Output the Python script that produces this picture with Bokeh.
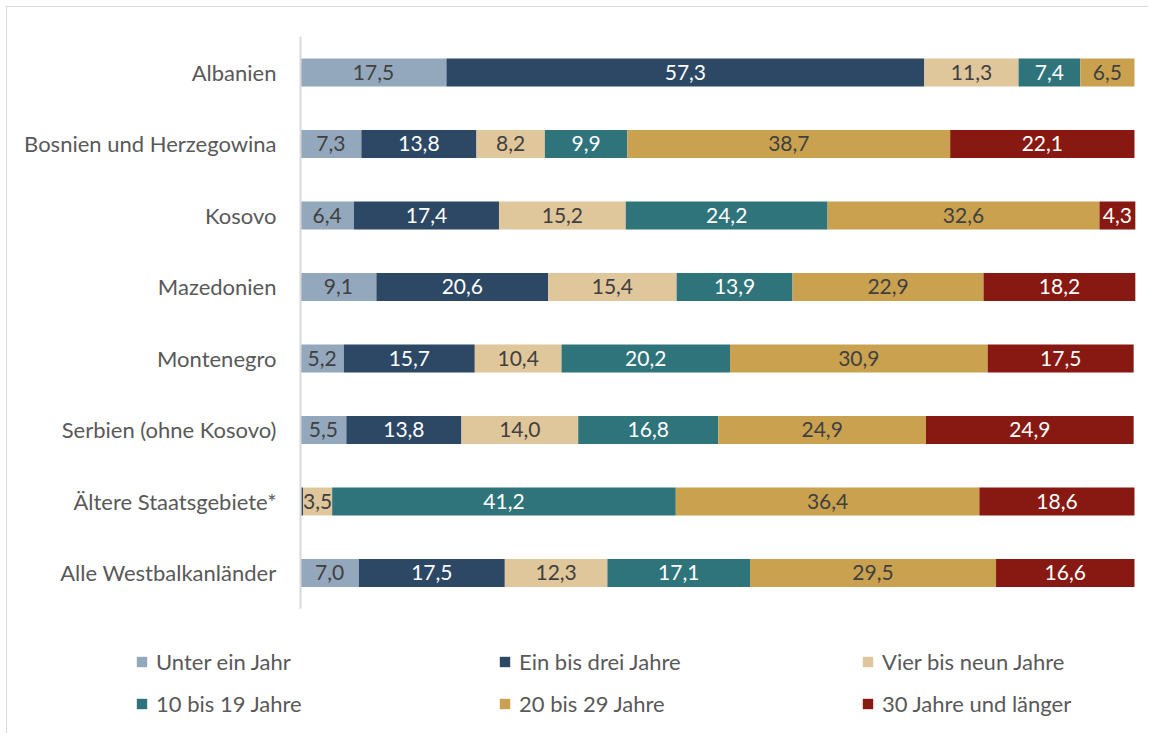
from bokeh.plotting import figure
from bokeh.models import ColumnDataSource, Range1d, LabelSet, Legend, LegendItem
from bokeh.core.properties import value
from bokeh.embed import file_html
from bokeh.resources import INLINE

countries = ["Albanien", "Bosnien und Herzegowina", "Kosovo", "Mazedonien", "Montenegro",
             "Serbien (ohne Kosovo)", "Ältere Staatsgebiete*", "Alle Westbalkanländer"]
series = ["Unter ein Jahr", "Ein bis drei Jahre", "Vier bis neun Jahre",
          "10 bis 19 Jahre", "20 bis 29 Jahre", "30 Jahre und länger"]
unter_1 = [17.5, 7.3, 6.4, 9.1, 5.2, 5.5, 0.1, 7.0]
j1_3 = [57.3, 13.8, 17.4, 20.6, 15.7, 13.8, 0.2, 17.5]
j4_9 = [11.3, 8.2, 15.2, 15.4, 10.4, 14.0, 3.5, 12.3]
j10_19 = [7.4, 9.9, 24.2, 13.9, 20.2, 16.8, 41.2, 17.1]
j20_29 = [6.5, 38.7, 32.6, 22.9, 30.9, 24.9, 36.4, 29.5]
j30 = [0.0, 22.1, 4.3, 18.2, 17.5, 24.9, 18.6, 16.6]

colors = ["#94A8BD", "#2C4864", "#E0C69B", "#2F747B", "#CAA24F", "#881912"]
text_colors = ["#404040", "#FFFFFF", "#404040", "#FFFFFF", "#404040", "#FFFFFF"]
FONT = "Lato"

values = [unter_1, j1_3, j4_9, j10_19, j20_29, j30]
keys = ["s%d" % i for i in range(6)]
n = len(countries)
pos = list(range(n))  # row index, first category on top
data = {"country": countries, "pos": pos}
for k, v in zip(keys, values):
    data[k] = v
src = ColumnDataSource(data)

# frame covers the whole canvas; ranges chosen so that 0..100 spans the plotting band
W, H = 1142, 727
p = figure(width=W, height=H, output_backend="svg", toolbar_location=None,
           x_axis_type=None, y_axis_type=None,
           x_range=Range1d(-35.13, 101.8), y_range=Range1d(9.259, -0.909))
p.min_border = 0
p.min_border_left = 0
p.min_border_right = 0
p.min_border_top = 0
p.min_border_bottom = 0
p.outline_line_color = None
p.grid.visible = False
p.styles = {"margin-left": "6px", "margin-top": "6px",
            "border-top": "1px solid #d9d9d9", "border-left": "1px solid #d9d9d9"}

rends = p.hbar_stack(keys, y="pos", height=0.39, color=colors, source=src, line_color=None)

# category axis line
p.segment(x0=[0], y0=[-0.5], x1=[0], y1=[n - 0.5], line_color="#d9d9d9", line_width=2)

# category labels
cat_labels = LabelSet(x=0, y="pos", text="country", source=src, x_offset=-24,
                      text_align="right", text_baseline="middle", text_color="#595959",
                      text_font=value(FONT), text_font_size="22px")
p.add_layout(cat_labels)

# value labels
lx, ly, lt, lc = [], [], [], []
for ci in range(n):
    cum = 0.0
    for si in range(6):
        v = values[si][ci]
        if v >= 1.0:
            lx.append(cum + v / 2)
            ly.append(pos[ci])
            lt.append(("%.1f" % v).replace(".", ","))
            lc.append(text_colors[si])
        cum += v
lsrc = ColumnDataSource(dict(x=lx, y=ly, t=lt, c=lc))
labels = LabelSet(x="x", y="y", text="t", source=lsrc, text_align="center", text_baseline="middle",
                  text_color="c", text_font=value(FONT), text_font_size="21px")
p.add_layout(labels)

order = [0, 3, 1, 4, 2, 5]
items = [LegendItem(label=series[i], renderers=[rends[i]]) for i in order]
legend = Legend(items=items, ncols=3, location=(128, 17),
                glyph_width=13, glyph_height=13, label_height=20, label_width=327,
                label_standoff=8, spacing=15, padding=0, margin=0,
                border_line_color=None, background_fill_alpha=0,
                label_text_font=FONT, label_text_font_size="22px", label_text_color="#595959")
p.add_layout(legend, "center")

open("out.html", "w").write(file_html(p, INLINE))
